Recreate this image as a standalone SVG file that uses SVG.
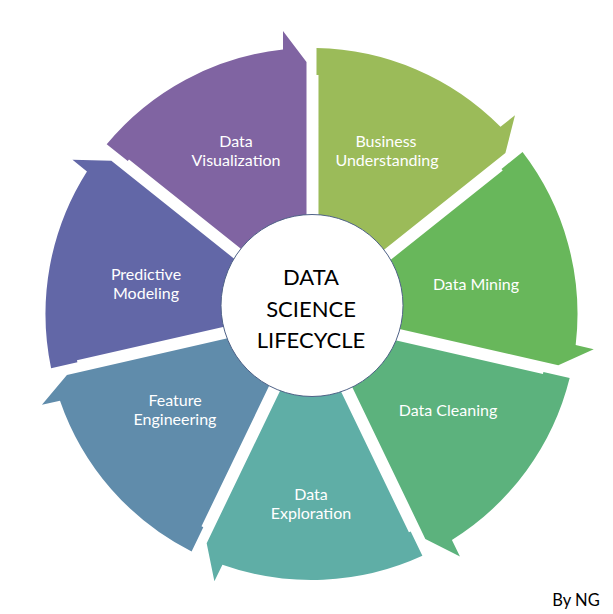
<svg xmlns="http://www.w3.org/2000/svg" width="613" height="614" viewBox="0 0 613 614">
<defs>
<style>
.lbl{font-family:Lato,"Liberation Sans",sans-serif;font-size:16px;fill:#ffffff;text-anchor:middle}
.ctr{font-family:Lato,"Liberation Sans",sans-serif;font-size:22px;fill:#000000;text-anchor:middle}
.sig{font-family:Lato,"Liberation Sans",sans-serif;font-size:16.5px;fill:#000000;text-anchor:middle}
</style>
<path id="seg" d="M 306.5,264.25 L 306.5,62 L 283,31 L 283,49.53 A 266 266 0 0 0 106.69,144.27 L 127.76,161.08 L 129.0,159.52 L 277.15,277.66 A 50 50 0 0 1 306.5,264.25 Z"/>
</defs>
<rect width="613" height="614" fill="#ffffff"/>
<g id="segments">
<g id="n-visualization"><use href="#seg" fill="#8064A2"/></g>
<g id="n-business"><use href="#seg" fill="#9BBB59" transform="rotate(51.4286 311.5 314)"/></g>
<g id="n-mining"><use href="#seg" fill="#68B75B" transform="rotate(102.857 311.5 314)"/></g>
<g id="n-cleaning"><use href="#seg" fill="#5CB27D" transform="rotate(154.286 311.5 314)"/></g>
<g id="n-exploration"><use href="#seg" fill="#5FAEA6" transform="rotate(205.714 311.5 314)"/></g>
<g id="n-feature"><use href="#seg" fill="#608CAB" transform="rotate(257.143 311.5 314)"/></g>
<g id="n-predictive"><use href="#seg" fill="#6267A7" transform="rotate(308.571 311.5 314)"/></g>
</g>
<g id="connectors"></g>
<g id="center">
<circle cx="312" cy="305.5" r="91" fill="#ffffff" stroke="#4F6287" stroke-width="1"/>
<text class="ctr" x="311" y="285">DATA</text>
<text class="ctr" x="311" y="316.5">SCIENCE</text>
<text class="ctr" x="311" y="347.5">LIFECYCLE</text>
</g>
<g id="labels">
<text class="lbl" x="386" y="147">Business</text>
<text class="lbl" x="387" y="166">Understanding</text>
<text class="lbl" x="476" y="290">Data Mining</text>
<text class="lbl" x="448" y="416">Data Cleaning</text>
<text class="lbl" x="311" y="500">Data</text>
<text class="lbl" x="311" y="519">Exploration</text>
<text class="lbl" x="175" y="406">Feature</text>
<text class="lbl" x="175" y="425">Engineering</text>
<text class="lbl" x="146" y="280">Predictive</text>
<text class="lbl" x="146" y="299">Modeling</text>
<text class="lbl" x="236" y="147">Data</text>
<text class="lbl" x="236" y="166">Visualization</text>
</g>
<text class="sig" x="576" y="606">By NG</text>
</svg>
